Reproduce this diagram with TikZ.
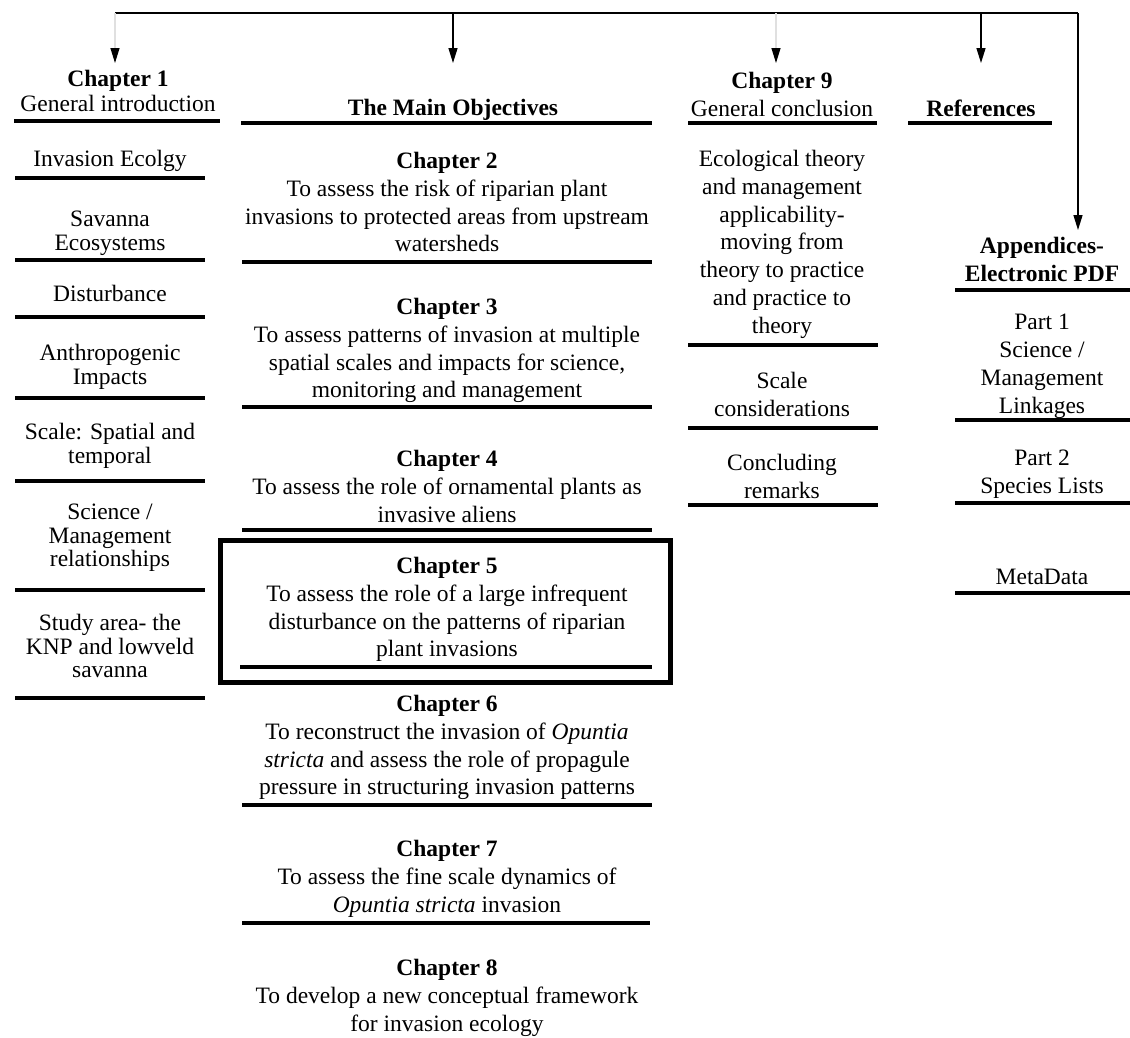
\documentclass[tikz,border=0pt]{standalone}
\usepackage{fontspec}
\setmainfont{Liberation Serif}
\usetikzlibrary{arrows.meta}
\begin{document}
\begin{tikzpicture}[x=1pt,y=-1pt,
  lbl/.style={inner sep=0pt, anchor=north, align=center, text=black},
  wide/.style={lbl, font=\fontsize{23.5}{27.8}\selectfont},
  head/.style={lbl, font=\fontsize{23.5}{25}\selectfont},
  narrow/.style={lbl, font=\fontsize{23.5}{23.5}\selectfont},
  uline/.style={line width=4.8pt},
  frame/.style={line width=5pt},
  trunk/.style={line width=1.4pt},
  conn/.style={line width=1.4pt, -{Triangle[length=15pt,width=9pt]}},
  faintconn/.style={line width=1.2pt, draw=black!12, -{Triangle[length=15pt,width=9pt,color=black]}}
]
\useasboundingbox (0,0) rectangle (1130,1037);

% ---------- left column ----------
\node[head] (ch1) at (118,70) {\textbf{Chapter 1}\\General introduction};
\node[narrow] (le1) at (110,150) {Invasion Ecolgy};
\node[narrow] (le2) at (110,211) {Savanna\\Ecosystems};
\node[narrow] (le3) at (110,285) {Disturbance};
\node[narrow] (le4) at (110,344) {Anthropogenic\\Impacts};
\node[narrow] (le5) at (110,423) {Scale: Spatial and\\temporal};
\node[narrow] (le6) at (110,504) {Science /\\Management\\relationships};
\node[narrow] (le7) at (110,614) {Study area- the\\KNP and lowveld\\savanna};

\draw[uline] (14,121) -- (220,121);
\draw[uline] (15,178) -- (205,178);
\draw[uline] (15,260) -- (205,260);
\draw[uline] (15,317) -- (205,317);
\draw[uline] (15,398) -- (205,398);
\draw[uline] (15,481) -- (205,481);
\draw[uline] (15,590) -- (205,590);
\draw[uline] (15,698) -- (205,698);

% ---------- centre column ----------
\node[wide] (main) at (453,99) {\textbf{The Main Objectives}};
\node[wide] (ch2) at (447,152) {\textbf{Chapter 2}\\To assess the risk of riparian plant\\invasions to protected areas from upstream\\watersheds};
\node[wide] (ch3) at (447,298) {\textbf{Chapter 3}\\To assess patterns of invasion at multiple\\spatial scales and impacts for science,\\monitoring and management};
\node[wide] (ch4) at (447,450) {\textbf{Chapter 4}\\To assess the role of ornamental plants as\\invasive aliens};
\node[wide] (ch5) at (447,557) {\textbf{Chapter 5}\\To assess the role of a large infrequent\\disturbance on the patterns of riparian\\plant invasions};
\node[wide] (ch6) at (447,695) {\textbf{Chapter 6}\\To reconstruct the invasion of \textit{Opuntia}\\\textit{stricta} and assess the role of propagule\\pressure in structuring invasion patterns};
\node[wide] (ch7) at (447,840) {\textbf{Chapter 7}\\To assess the fine scale dynamics of\\\textit{Opuntia stricta} invasion};
\node[wide] (ch8) at (447,959) {\textbf{Chapter 8}\\To develop a new conceptual framework\\for invasion ecology};

\draw[uline] (241,123) -- (652,123);
\draw[uline] (242,262) -- (652,262);
\draw[uline] (242,407) -- (652,407);
\draw[uline] (242,530) -- (652,530);
\draw[uline] (240,667) -- (652,667);
\draw[uline] (242,805) -- (652,805);
\draw[uline] (242,923) -- (650,923);
\draw[frame] (220,540) rectangle (670,682);

% ---------- chapter 9 column ----------
\node[wide] (ch9) at (782,72) {\textbf{Chapter 9}\\General conclusion};
\node[wide] (c9a) at (782,150) {Ecological theory\\and management\\applicability-\\moving from\\theory to practice\\and practice to\\theory};
\node[wide] (c9b) at (782,372) {Scale\\considerations};
\node[wide] (c9c) at (782,454) {Concluding\\remarks};

\draw[uline] (688,123) -- (877,123);
\draw[uline] (688,345) -- (878,345);
\draw[uline] (688,428) -- (878,428);
\draw[uline] (688,505) -- (878,505);

% ---------- references ----------
\node[wide] (ref) at (981,100) {\textbf{References}};
\draw[uline] (908,123) -- (1052,123);

% ---------- appendices column ----------
\node[wide] (app) at (1042,237) {\textbf{Appendices-}\\\textbf{Electronic PDF}};
\node[wide] (r1) at (1042,314) {Part 1\\Science /\\Management\\Linkages};
\node[wide] (r2) at (1042,450) {Part 2\\Species Lists};
\node[wide] (r3) at (1042,569) {MetaData};

\draw[uline] (955,290) -- (1130,290);
\draw[uline] (955,420) -- (1130,420);
\draw[uline] (955,503) -- (1130,503);
\draw[uline] (955,593) -- (1130,593);

% ---------- connectors ----------
\coordinate (tA) at (115,13);
\coordinate (tB) at (453,13);
\coordinate (tC) at (776,13);
\coordinate (tD) at (981,13);
\coordinate (tE) at (1078,13);

\draw[trunk] (tA) -- (tE);
\draw[faintconn, shorten >=7pt] (tA) -- (tA |- ch1.north);
\draw[conn, shorten >=36pt] (tB) -- (tB |- main.north);
\draw[faintconn, shorten >=9pt] (tC) -- (tC |- ch9.north);
\draw[conn, shorten >=37pt] (tD) -- (tD |- ref.north);
\draw[conn, shorten >=7pt] (tE) -- (tE |- app.north);
\end{tikzpicture}
\end{document}
